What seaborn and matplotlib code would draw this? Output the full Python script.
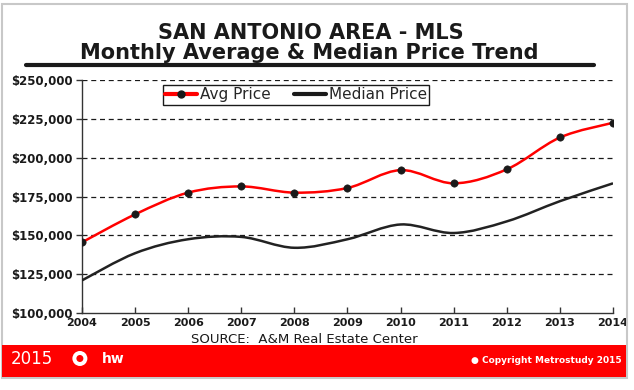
import matplotlib
matplotlib.use("Agg")
import matplotlib.pyplot as plt
from matplotlib.path import Path
from matplotlib.patches import PathPatch, Rectangle, Ellipse
from matplotlib.lines import Line2D
from matplotlib.ticker import FuncFormatter
import seaborn as sns
import pandas as pd

years = [2004, 2005, 2006, 2007, 2008, 2009, 2010, 2011, 2012, 2013, 2014]
avg_price = [145500, 163500, 177500, 181500, 177500, 180500, 192000, 183500, 192500, 213000, 222500]
median_price = [121000, 138500, 147500, 149000, 142000, 147500, 157000, 151500, 159000, 172000, 183500]

y_ticks = [100000, 125000, 150000, 175000, 200000, 225000, 250000]


def smooth_path(xs, ys):
    # catmull-rom segments as cubic beziers, like the excel "smoothed line"
    verts = [(xs[0], ys[0])]
    codes = [Path.MOVETO]
    n = len(xs)
    for i in range(n - 1):
        x0, y0 = (xs[i - 1], ys[i - 1]) if i > 0 else (xs[i], ys[i])
        x1, y1 = xs[i], ys[i]
        x2, y2 = xs[i + 1], ys[i + 1]
        x3, y3 = (xs[i + 2], ys[i + 2]) if i + 2 < n else (x2, y2)
        c1 = (x1 + (x2 - x0) / 6, y1 + (y2 - y0) / 6)
        c2 = (x2 - (x3 - x1) / 6, y2 - (y3 - y1) / 6)
        verts += [c1, c2, (x2, y2)]
        codes += [Path.CURVE4] * 3
    return Path(verts, codes)


sns.set_style("white")
plt.rcParams['font.family'] = ['DejaVu Sans']

fig = plt.figure(figsize=(6.34, 3.9), dpi=100)

# outer frame and red footer band
fig.patches.append(Rectangle((0.0024, 0.0308), 0.9866, 0.959, transform=fig.transFigure,
                             fill=False, edgecolor='#c8c8c8', linewidth=1.5))
fig.patches.append(Rectangle((0.003, 0.0333), 0.984, 0.082, transform=fig.transFigure,
                             facecolor='#ff0000', edgecolor='none'))

fig.text(0.4897, 0.9, "SAN ANTONIO AREA - MLS", ha='center', va='baseline',
         fontsize=15, fontweight='bold', color='#1a1a1a')
fig.text(0.488, 0.849, "Monthly Average & Median Price Trend", ha='center', va='baseline',
         fontsize=15, fontweight='bold', color='#1a1a1a')
fig.add_artist(Line2D([0.041, 0.937], [0.8333, 0.8333], transform=fig.transFigure,
                      color='#1a1a1a', linewidth=3))

ax = fig.add_axes([0.1293, 0.1974, 0.8376, 0.5974])

df = pd.DataFrame({'year': years, 'avg': avg_price, 'median': median_price})

ax.add_patch(PathPatch(smooth_path(years, median_price), fill=False,
                       edgecolor='#222222', linewidth=1.8, zorder=3))
ax.add_patch(PathPatch(smooth_path(years, avg_price), fill=False,
                       edgecolor='#ff0000', linewidth=1.8, zorder=3))
sns.scatterplot(data=df, x='year', y='avg', ax=ax, color='#1a1a1a', s=28,
                edgecolor='#1a1a1a', zorder=4, legend=False)

ax.set_xlim(2004, 2014)
ax.set_ylim(100000, 250000)
ax.set_xticks(years)
ax.set_yticks(y_ticks)
ax.yaxis.set_major_formatter(FuncFormatter(lambda v, p: f"${v:,.0f}"))
ax.set_xlabel("")
ax.set_ylabel("")
for t in y_ticks[1:]:
    ax.axhline(t, color='#1a1a1a', linestyle=(0, (4, 3)), linewidth=0.9, zorder=1)

for s in ['top', 'right']:
    ax.spines[s].set_visible(False)
for s in ['left', 'bottom']:
    ax.spines[s].set_color('#333333')
    ax.spines[s].set_linewidth(1.0)
ax.tick_params(axis='y', direction='out', length=4, width=1, color='#333333',
               labelsize=8.5, pad=2.5, left=True)
ax.tick_params(axis='x', direction='in', length=4, width=1, color='#333333',
               labelsize=8, pad=3.5, bottom=True)
for lab in ax.get_xticklabels() + ax.get_yticklabels():
    lab.set_fontweight('bold')
    lab.set_color('#1a1a1a')

handles = [Line2D([], [], color='#ff0000', linewidth=3, marker='o', markersize=5,
                  markerfacecolor='#1a1a1a', markeredgecolor='#1a1a1a'),
           Line2D([], [], color='#1a1a1a', linewidth=3)]
leg = ax.legend(handles, ['Avg Price', 'Median Price'], ncol=2, loc='upper left',
                bbox_to_anchor=(0.152, 0.978), frameon=True, fancybox=False,
                edgecolor='#1a1a1a', fontsize=11, handlelength=2.1, handletextpad=0.2,
                columnspacing=1.5, borderpad=0.15, borderaxespad=0)
leg.get_frame().set_linewidth(1.0)
leg.get_frame().set_facecolor('white')
leg.get_frame().set_alpha(1)

fig.text(0.48, 0.13, "SOURCE:  A&M Real Estate Center", ha='center', va='center',
         fontsize=9.5, color='#1a1a1a')

# footer
fig.text(0.0174, 0.0795, "2015", ha='left', va='center', fontsize=12, color='white')
fig.patches.append(Ellipse((0.126, 0.0808), 15 / 634, 15 / 390, transform=fig.transFigure,
                           facecolor='white', edgecolor='none'))
fig.patches.append(Ellipse((0.126, 0.0808), 7 / 634, 7 / 390, transform=fig.transFigure,
                           facecolor='#ff0000', edgecolor='none'))
fig.text(0.161, 0.0795, "hw", ha='left', va='center', fontsize=10, fontweight='bold',
         color='white')
fig.text(0.981, 0.075, "\u25cf Copyright Metrostudy 2015", ha='right', va='center',
         fontsize=6.5, fontweight='bold', color='white')

fig.savefig("out.png", dpi=100, facecolor='white')
